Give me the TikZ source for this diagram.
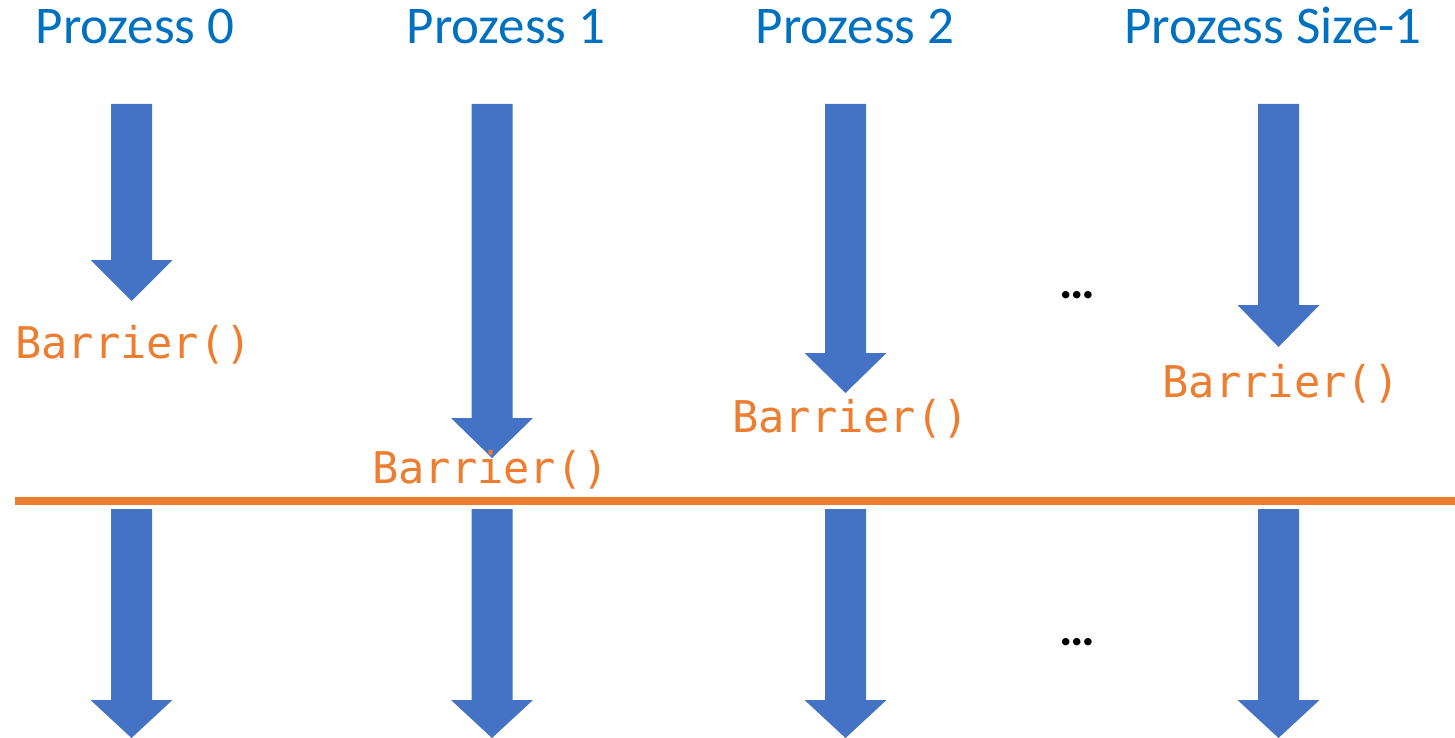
\documentclass[tikz,border=0pt]{standalone}
\usepackage{fontspec}
\setmainfont{Carlito}
\newfontfamily\codefont{DejaVu Sans Mono}
\definecolor{procblue}{HTML}{4472C4}
\definecolor{titleblue}{HTML}{0070C0}
\definecolor{barrierorange}{HTML}{ED7D31}

% block arrow pointing down: centre x, shaft top, head base, tip
\newcommand{\procarrow}[4]{%
  \fill[flowarrow] (#1-20.5,#2) -- (#1+20.5,#2) -- (#1+20.5,#3) -- (#1+41,#3)
    -- (#1,#4) -- (#1-41,#3) -- (#1-20.5,#3) -- cycle;}

\begin{document}
\begin{tikzpicture}[x=1pt,y=-1pt,
  flowarrow/.style={fill=procblue},
  proctitle/.style={anchor=base,inner sep=0pt,text=titleblue,
    font=\fontsize{53}{62}\selectfont},
  barriercall/.style={anchor=base,inner sep=0pt,text=barrierorange,
    font=\codefont\fontsize{43.7}{50}\selectfont},
  ellipsis/.style={anchor=base,inner sep=0pt,font=\bfseries\fontsize{50}{56}\selectfont},
  barrierline/.style={draw=barrierorange,line width=8pt}]
\useasboundingbox (0,0) rectangle (1455,738);

% process headings
\node[proctitle] (t0) at (135,44) {Prozess 0};
\node[proctitle] (t1) at (506,44) {Prozess 1};
\node[proctitle] (t2) at (855,44) {Prozess 2};
\node[proctitle] (t3) at (1273,44) {Prozess Size-1};

% work before the barrier
\procarrow{131.5}{104}{260}{301}
\procarrow{492}{104}{418}{458}
\procarrow{845.5}{104}{353}{393}
\procarrow{1278.5}{104}{305}{347}

% barrier calls
\node[barriercall] (b0) at (133.5,358) {Barrier()};
\node[barriercall] (b1) at (490.5,483) {Barrier()};
\node[barriercall] (b2) at (850.5,432) {Barrier()};
\node[barriercall] (b3) at (1281,397) {Barrier()};

% synchronisation line
\coordinate (sl) at (15,501);
\coordinate (sr) at (1455,501);
\draw[barrierline] (sl) -- (sr);

% work after the barrier
\procarrow{131.5}{509}{700}{738}
\procarrow{492}{509}{700}{738}
\procarrow{845.5}{509}{700}{738}
\procarrow{1278.5}{509}{700}{738}

% further processes
\node[ellipsis] (d0) at (1077,298) {…};
\node[ellipsis] (d1) at (1077,645.5) {…};
\end{tikzpicture}
\end{document}
